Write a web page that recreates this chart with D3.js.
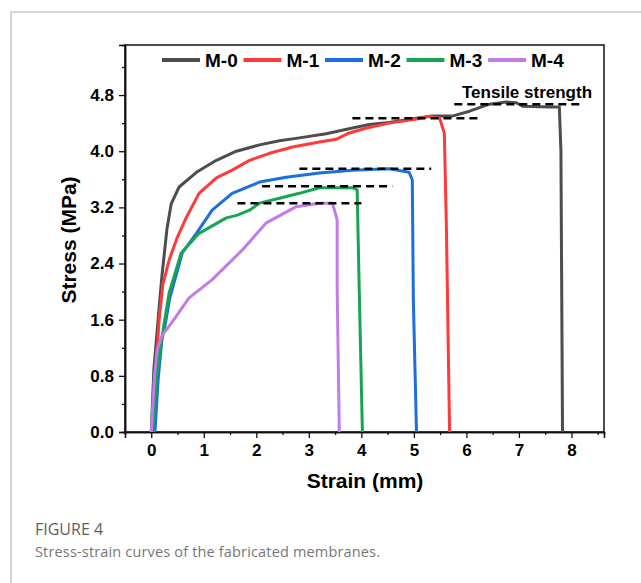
<!DOCTYPE html>
<html>
<head>
<meta charset="utf-8">
<title>Stress-strain curves</title>
<script src="https://d3js.org/d3.v7.min.js"></script>
<style>
  body { margin: 0; background: #fff; }
  text { font-family: "Liberation Sans", Arial, sans-serif; }
</style>
</head>
<body>
<script>
// series data: [strain (mm), stress (MPa)]
var seriesNames = ["M-0", "M-1", "M-2", "M-3", "M-4"];
var seriesColors = ["#4d4d4d", "#ff3a3a", "#1b6fde", "#17a554", "#c17ce6"];

var m0 = [[0,0],[0.05,0.9],[0.13,1.6],[0.2,2.2],[0.3,2.9],[0.38,3.25],[0.53,3.49],[0.86,3.70],[1.24,3.87],[1.62,4.0],
          [2.06,4.09],[2.44,4.15],[2.82,4.19],[3.33,4.25],[3.83,4.33],[4.15,4.38],[4.53,4.41],[5.05,4.47],[5.35,4.50],
          [5.73,4.50],[6.06,4.57],[6.44,4.67],[6.76,4.70],[6.95,4.69],[7.07,4.64],[7.58,4.63],[7.77,4.63],[7.80,4.0],[7.83,0]];
var m1 = [[0.02,0],[0.08,0.8],[0.15,1.6],[0.22,2.1],[0.34,2.45],[0.50,2.78],[0.67,3.06],[0.91,3.40],[1.24,3.62],[1.54,3.73],
          [1.87,3.87],[2.25,3.97],[2.69,4.06],[3.20,4.13],[3.52,4.17],[3.77,4.26],[4.10,4.33],[4.53,4.40],[5.05,4.46],
          [5.30,4.50],[5.49,4.47],[5.58,4.26],[5.62,2.88],[5.68,0]];
var m2 = [[0.07,0],[0.13,0.74],[0.2,1.3],[0.27,1.55],[0.35,1.9],[0.59,2.55],[0.86,2.83],[1.16,3.16],[1.54,3.40],[2.06,3.56],
          [2.57,3.63],[3.20,3.69],[3.83,3.73],[4.53,3.75],[4.91,3.70],[4.97,3.59],[4.99,1.88],[5.05,0]];
var m3 = [[0.03,0],[0.1,0.8],[0.19,1.27],[0.25,1.57],[0.34,1.98],[0.57,2.55],[0.91,2.83],[1.43,3.05],[1.64,3.09],[1.87,3.16],
          [2.06,3.26],[2.44,3.33],[2.82,3.40],[3.20,3.48],[3.83,3.48],[3.92,3.45],[3.96,2.02],[4.02,0]];
var m4 = [[0,0],[0.06,0.78],[0.11,1.17],[0.21,1.38],[0.40,1.57],[0.72,1.91],[1.16,2.17],[1.73,2.59],[2.19,2.98],[2.76,3.21],
          [3.20,3.26],[3.45,3.26],[3.54,3.02],[3.54,2.02],[3.58,0]];
var seriesData = [m0, m1, m2, m3, m4];

// dashed tensile strength markers: [x start, x end, stress]
var strengthLines = [[5.77, 8.19, 4.67], [3.83, 6.21, 4.47], [2.82, 5.33, 3.75], [2.11, 4.59, 3.50], [1.64, 4.0, 3.26]];

var xTicks = [0, 1, 2, 3, 4, 5, 6, 7, 8];
var xMinor = [-0.5, 0.5, 1.5, 2.5, 3.5, 4.5, 5.5, 6.5, 7.5, 8.5];
var yTicks = [0, 0.8, 1.6, 2.4, 3.2, 4.0, 4.8];
var yMinor = [0.4, 1.2, 2.0, 2.8, 3.6, 4.4, 5.2];

var width = 641, height = 583;
var plotLeft = 125, plotRight = 604, plotTop = 45, plotBottom = 432;

var svg = d3.select("body").append("svg")
    .attr("width", width)
    .attr("height", height);

// page frame
svg.append("path")
    .attr("d", "M11,583 V12 H641")
    .attr("fill", "none")
    .attr("stroke", "#c8c8c8")
    .attr("stroke-width", 1.5);

var x = d3.scaleLinear().domain([-0.5, 8.62]).range([plotLeft, plotRight]);
var y = d3.scaleLinear().domain([0, 5.513]).range([plotBottom, plotTop]);

// plot box
svg.append("rect")
    .attr("x", plotLeft).attr("y", plotTop)
    .attr("width", plotRight - plotLeft).attr("height", plotBottom - plotTop)
    .attr("fill", "none").attr("stroke", "#111").attr("stroke-width", 1.5);

// axes
svg.append("g").attr("transform", "translate(0," + plotBottom + ")")
    .call(d3.axisBottom(x).tickValues(xTicks).tickSize(6).tickPadding(6).tickFormat(d3.format("d")));
svg.append("g").attr("transform", "translate(0," + plotBottom + ")")
    .call(d3.axisBottom(x).tickValues(xMinor).tickSize(3).tickFormat(""));
svg.append("g").attr("transform", "translate(" + plotLeft + ",0)")
    .call(d3.axisLeft(y).tickValues(yTicks).tickSize(6).tickPadding(5).tickFormat(d3.format(".1f")));
svg.append("g").attr("transform", "translate(" + plotLeft + ",0)")
    .call(d3.axisLeft(y).tickValues(yMinor).tickSize(3).tickFormat(""));

svg.selectAll(".domain").attr("stroke", "#111").attr("stroke-width", 1.5);
svg.selectAll(".tick line").attr("stroke", "#111").attr("stroke-width", 1.3);
svg.selectAll(".tick text")
    .attr("fill", "#000")
    .style("font-family", "'Liberation Sans', Arial, sans-serif")
    .style("font-weight", "bold")
    .style("font-size", "17px");

// axis titles
svg.append("text")
    .attr("x", 365).attr("y", 488)
    .attr("text-anchor", "middle")
    .style("font-weight", "bold").style("font-size", "21px")
    .text("Strain (mm)");
svg.append("text")
    .attr("transform", "translate(76,240) rotate(-90)")
    .attr("text-anchor", "middle")
    .style("font-weight", "bold").style("font-size", "21px")
    .text("Stress (MPa)");

// curves
var line = d3.line().x(function(d) { return x(d[0]); }).y(function(d) { return y(d[1]); });
seriesData.forEach(function(s, i) {
    svg.append("path")
        .datum(s)
        .attr("d", line)
        .attr("fill", "none")
        .attr("stroke", seriesColors[i])
        .attr("stroke-width", 3)
        .attr("stroke-linejoin", "round");
});

// strength markers
strengthLines.forEach(function(d) {
    svg.append("line")
        .attr("x1", x(d[0])).attr("x2", x(d[1]))
        .attr("y1", y(d[2])).attr("y2", y(d[2]))
        .attr("stroke", "#000")
        .attr("stroke-width", 2.5)
        .attr("stroke-dasharray", "8,5");
});

svg.append("text")
    .attr("x", 462).attr("y", 98)
    .style("font-weight", "bold").style("font-size", "17px")
    .text("Tensile strength");

// legend
var legend = svg.append("g").attr("transform", "translate(162,60)");
seriesNames.forEach(function(name, i) {
    var g = legend.append("g").attr("transform", "translate(" + (i * 81.5) + ",0)");
    g.append("line")
        .attr("x1", 0).attr("x2", 38)
        .attr("stroke", seriesColors[i]).attr("stroke-width", 4);
    g.append("text")
        .attr("x", 43).attr("y", 7)
        .style("font-weight", "bold").style("font-size", "19px")
        .text(name);
});

// caption
svg.append("text")
    .attr("x", 35).attr("y", 535)
    .style("font-family", "'Open Sans', 'Noto Sans', sans-serif")
    .style("font-size", "16px")
    .attr("fill", "#5e5e5e")
    .text("FIGURE 4");
svg.append("text")
    .attr("x", 35).attr("y", 557)
    .style("font-family", "'Open Sans', 'Noto Sans', sans-serif")
    .style("font-size", "14.5px")
    .attr("fill", "#777")
    .attr("textLength", 345)
    .text("Stress-strain curves of the fabricated membranes.");
</script>
</body>
</html>
